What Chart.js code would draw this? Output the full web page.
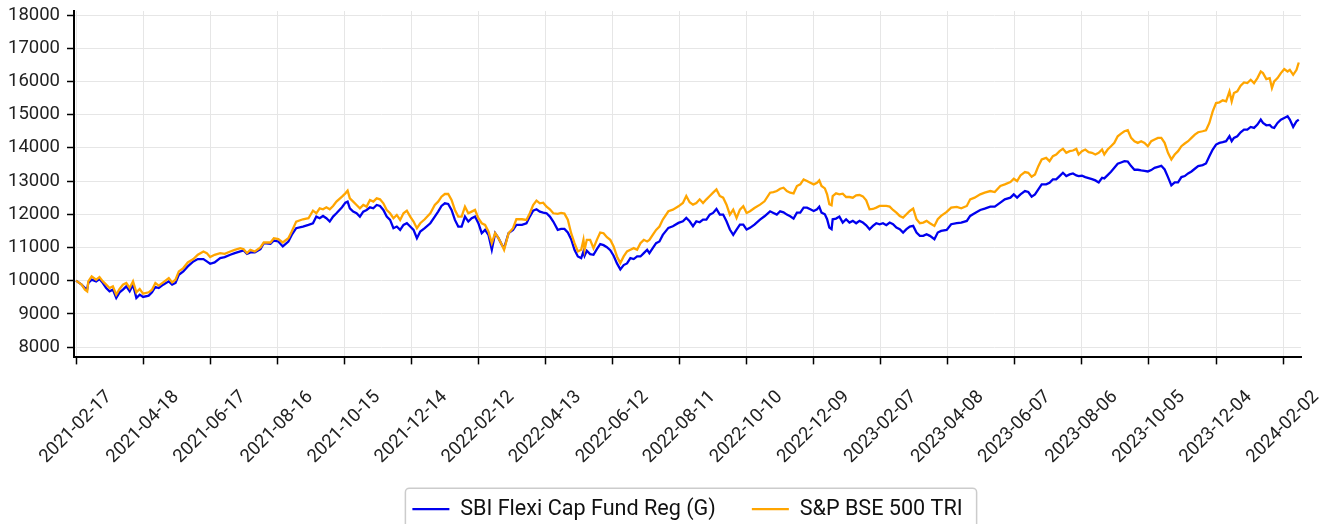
<!DOCTYPE html>
<html>
<head>
<meta charset="utf-8">
<script src="https://cdn.jsdelivr.net/npm/chart.js@4.4.4/dist/chart.umd.min.js"></script>
<style>
  html, body { margin: 0; padding: 0; background: #fff; }
  canvas { display: block; }
</style>
</head>
<body>
<canvas id="chart" width="1323" height="524"></canvas>
<script>
// Growth of 10000 invested: SBI Flexi Cap Fund vs S&P BSE 500 TRI.
// x values are calendar days counted from START.
const START = '2021-02-17';

const tickLabels = [
    '2021-02-17', '2021-04-18', '2021-06-17', '2021-08-16', '2021-10-15', '2021-12-14',
    '2022-02-12', '2022-04-13', '2022-06-12', '2022-08-11', '2022-10-10', '2022-12-09',
    '2023-02-07', '2023-04-08', '2023-06-07', '2023-08-06', '2023-10-05', '2023-12-04',
    '2024-02-02',
];

const yTicks = [8000, 9000, 10000, 11000, 12000, 13000, 14000, 15000, 16000, 17000, 18000];

const days = [
    0, 5, 8, 10, 11, 14, 18, 21, 24, 27, 30, 33, 36, 39, 42, 45, 48, 51, 54, 57,
    60, 65, 68, 71, 74, 78, 83, 86, 89, 92, 96, 100, 105, 109, 114, 117, 120, 124, 129, 133,
    138, 142, 147, 150, 153, 156, 160, 165, 168, 174, 177, 181, 185, 190, 193, 197, 203, 208, 212, 215,
    218, 221, 224, 227, 230, 233, 238, 241, 243, 245, 248, 251, 254, 257, 260, 263, 266, 269, 272, 275,
    278, 281, 284, 287, 290, 293, 296, 299, 302, 305, 308, 312, 317, 321, 324, 327, 330, 333, 336, 339,
    342, 345, 348, 351, 354, 357, 360, 363, 366, 369, 372, 375, 378, 381, 383, 387, 391, 394, 399, 403,
    406, 409, 412, 415, 418, 421, 424, 427, 431, 434, 437, 440, 443, 446, 449, 452, 454, 455, 457, 460,
    463, 466, 469, 472, 475, 478, 481, 484, 487, 490, 493, 496, 499, 502, 505, 508, 511, 513, 516, 519,
    522, 525, 530, 534, 539, 543, 546, 549, 552, 555, 558, 561, 564, 567, 570, 573, 576, 579, 582, 585,
    588, 591, 594, 597, 600, 603, 607, 612, 616, 621, 624, 627, 630, 633, 636, 639, 642, 645, 648, 651,
    654, 657, 660, 663, 665, 667, 670, 672, 674, 676, 677, 680, 683, 686, 689, 692, 695, 698, 701, 704,
    707, 710, 713, 716, 719, 722, 725, 728, 731, 734, 737, 740, 743, 746, 749, 752, 755, 758, 761, 764,
    768, 771, 774, 779, 783, 788, 792, 797, 800, 804, 809, 813, 818, 822, 827, 831, 836, 839, 842, 845,
    849, 852, 855, 858, 861, 864, 868, 871, 874, 877, 880, 883, 886, 889, 892, 895, 897, 900, 903, 906,
    909, 912, 915, 918, 920, 923, 926, 929, 932, 935, 938, 941, 944, 947, 950, 953, 956, 959, 962, 965,
    968, 971, 974, 977, 980, 983, 986, 989, 992, 995, 998, 1001, 1004, 1008, 1011, 1014, 1017, 1020, 1023, 1026,
    1029, 1032, 1034, 1036, 1039, 1042, 1045, 1048, 1051, 1054, 1057, 1060, 1062, 1065, 1068, 1070, 1072, 1075, 1078, 1081,
    1084, 1086, 1089, 1092, 1094,
];

const fundValues = [
    10000, 9880, 9780, 9750, 9930, 10030, 9980, 10050, 9930, 9780, 9680, 9730, 9480, 9650, 9730, 9830, 9680, 9880, 9480, 9580,
    9510, 9550, 9650, 9810, 9780, 9880, 9980, 9880, 9930, 10180, 10280, 10430, 10580, 10650, 10650, 10580, 10510, 10550, 10680, 10710,
    10780, 10830, 10880, 10910, 10810, 10850, 10850, 10950, 11130, 11110, 11210, 11180, 11030, 11180, 11380, 11580, 11630, 11680, 11730, 11930,
    11880, 11950, 11880, 11780, 11930, 12030, 12210, 12350, 12380, 12180, 12080, 12030, 11930, 12080, 12130, 12210, 12180, 12280, 12250, 12130,
    11930, 11830, 11580, 11630, 11530, 11680, 11730, 11630, 11530, 11280, 11480, 11580, 11730, 11930, 12080, 12250, 12330, 12310, 12130, 11830,
    11630, 11630, 11930, 11780, 11880, 11930, 11730, 11430, 11530, 11380, 10930, 11430, 11280, 11080, 10980, 11430, 11530, 11680, 11680, 11730,
    11930, 12110, 12150, 12080, 12050, 12030, 11930, 11780, 11530, 11560, 11560, 11450, 11250, 10930, 10730, 10680, 10880, 10750, 10900, 10800,
    10780, 10950, 11100, 11070, 11010, 10920, 10750, 10520, 10340, 10470, 10520, 10680, 10650, 10730, 10730, 10830, 10930, 10830, 10980, 11130,
    11180, 11380, 11590, 11640, 11740, 11790, 11890, 11790, 11640, 11790, 11760, 11840, 11840, 11990, 12040, 12160, 11990, 11990, 11790, 11540,
    11380, 11540, 11690, 11690, 11540, 11590, 11690, 11840, 11940, 12090, 12040, 11990, 12090, 12060, 11990, 11940, 11870, 12050, 12050, 12200,
    12200, 12150, 12100, 12150, 12230, 12050, 12000, 11850, 11600, 11550, 11850, 11870, 11930, 11750, 11850, 11750, 11800, 11730, 11800, 11750,
    11670, 11550, 11650, 11730, 11700, 11730, 11670, 11750, 11700, 11600, 11550, 11450, 11550, 11630, 11650, 11450, 11350, 11350, 11400, 11350,
    11250, 11450, 11500, 11530, 11700, 11730, 11750, 11800, 11950, 12030, 12130, 12170, 12230, 12230, 12350, 12450, 12500, 12600, 12500, 12600,
    12700, 12670, 12530, 12600, 12750, 12900, 12900, 12950, 13050, 13050, 13150, 13250, 13150, 13200, 13230, 13170, 13150, 13160, 13120, 13090,
    13060, 13020, 12960, 13100, 13080, 13180, 13280, 13400, 13520, 13560, 13600, 13590, 13450, 13340, 13340, 13320, 13310, 13290, 13330, 13400,
    13430, 13460, 13350, 13120, 12870, 12960, 12960, 13120, 13150, 13230, 13290, 13370, 13450, 13480, 13530, 13750, 13950, 14100, 14150, 14170,
    14200, 14350, 14200, 14300, 14350, 14470, 14550, 14550, 14630, 14600, 14700, 14850, 14750, 14680, 14690, 14620, 14600, 14750, 14850, 14900,
    14950, 14850, 14630, 14800, 14850,
];

const indexValues = [
    10000, 9880, 9730, 9680, 9980, 10130, 10030, 10110, 9980, 9880, 9780, 9830, 9580, 9750, 9880, 9930, 9780, 9980, 9650, 9750,
    9610, 9650, 9730, 9930, 9850, 9950, 10080, 9950, 10030, 10280, 10380, 10550, 10650, 10780, 10880, 10830, 10710, 10780, 10830, 10810,
    10880, 10930, 10980, 10950, 10830, 10930, 10880, 11000, 11150, 11150, 11280, 11250, 11150, 11280, 11480, 11780, 11850, 11880, 12110, 12030,
    12180, 12150, 12210, 12150, 12250, 12380, 12530, 12630, 12710, 12480, 12380, 12280, 12180, 12280, 12230, 12430, 12380, 12480, 12450, 12330,
    12130, 12030, 11880, 11980, 11830, 12030, 12110, 11930, 11780, 11580, 11730, 11850, 12030, 12280, 12380, 12530, 12610, 12610, 12430, 12130,
    11930, 11930, 12230, 12030, 12080, 12130, 11880, 11730, 11680, 11480, 11130, 11430, 11280, 11080, 10930, 11430, 11580, 11850, 11850, 11830,
    12030, 12280, 12410, 12330, 12350, 12230, 12150, 12030, 12010, 12040, 12020, 11840, 11430, 11130, 10880, 10930, 11230, 10930, 11230, 11230,
    10980, 11230, 11450, 11430, 11310, 11230, 11030, 10730, 10530, 10730, 10880, 10930, 10980, 10930, 11130, 11230, 11180, 11230, 11380, 11530,
    11630, 11840, 12090, 12140, 12240, 12340, 12550, 12360, 12290, 12340, 12450, 12340, 12450, 12550, 12650, 12750, 12550, 12500, 12290, 11990,
    12140, 11890, 12140, 12240, 12040, 12090, 12190, 12290, 12390, 12650, 12670, 12700, 12770, 12800, 12700, 12650, 12630, 12850, 12900, 13050,
    13000, 12950, 12900, 12950, 13020, 12850, 12780, 12600, 12300, 12270, 12550, 12630, 12600, 12620, 12520, 12520, 12500, 12570, 12580, 12540,
    12420, 12150, 12160, 12200, 12250, 12250, 12250, 12230, 12130, 12050, 11950, 11900, 12000, 12100, 12170, 11850, 11730, 11750, 11800, 11730,
    11650, 11850, 11950, 12070, 12200, 12220, 12180, 12250, 12450, 12500, 12600, 12650, 12700, 12670, 12850, 12900, 12970, 13070, 13000, 13170,
    13270, 13250, 13130, 13200, 13450, 13650, 13700, 13600, 13750, 13800, 13900, 13970, 13850, 13900, 13920, 13970, 13800, 13900, 13950, 13870,
    13850, 13800, 13850, 13950, 13800, 13950, 14050, 14150, 14350, 14430, 14500, 14530, 14300, 14200, 14150, 14200, 14150, 14050, 14200, 14250,
    14300, 14300, 14150, 13850, 13650, 13800, 13900, 14050, 14130, 14200, 14300, 14400, 14470, 14500, 14530, 14750, 15100, 15350, 15370, 15430,
    15400, 15700, 15400, 15650, 15700, 15870, 15970, 15950, 16050, 15950, 16100, 16300, 16250, 16070, 16100, 15800, 16000, 16100, 16250, 16370,
    16300, 16350, 16200, 16350, 16570,
];

const DAY_MS = 86400000;
const dayOf = (iso) => Math.round((Date.parse(iso) - Date.parse(START)) / DAY_MS);
const tickDays = tickLabels.map(dayOf);

Chart.defaults.font.family = 'Roboto, "Noto Sans", sans-serif';
Chart.defaults.color = '#222';

// outline round the legend, like the framed legend of the original
const legendFrame = {
    id: 'legendFrame',
    afterDraw(chart) {
        const lg = chart.legend;
        if (!lg || !lg.legendHitBoxes || !lg.legendHitBoxes.length) return;
        const boxes = lg.legendHitBoxes;
        const first = boxes[0];
        const last = boxes[boxes.length - 1];
        const left = first.left - 7;
        const right = last.left + last.width + 14;
        const top = first.top + first.height / 2 - 21;
        const { ctx } = chart;
        ctx.save();
        ctx.strokeStyle = '#cccccc';
        ctx.lineWidth = 1.5;
        ctx.beginPath();
        if (ctx.roundRect) ctx.roundRect(left, top, right - left, 60, 4);
        else ctx.rect(left, top, right - left, 60);
        ctx.stroke();
        ctx.restore();
    },
};

new Chart(document.getElementById('chart'), {
    type: 'line',
    data: {
        datasets: [
            {
                label: 'SBI Flexi Cap Fund Reg (G)',
                data: days.map((d, i) => ({ x: d, y: fundValues[i] })),
                borderColor: '#0000ee',
                backgroundColor: '#0000ee',
                borderWidth: 2.3,
                pointRadius: 0,
                tension: 0,
                order: 2,
            },
            {
                label: 'S&P BSE 500 TRI',
                data: days.map((d, i) => ({ x: d, y: indexValues[i] })),
                borderColor: '#ffa500',
                backgroundColor: '#ffa500',
                borderWidth: 2.3,
                pointRadius: 0,
                tension: 0,
                order: 1,
            },
        ],
    },
    options: {
        responsive: false,
        animation: false,
        devicePixelRatio: 1,
        layout: { padding: { top: 11, right: 22, bottom: -6, left: 0 } },
        plugins: {
            tooltip: { enabled: false },
            legend: {
                position: 'bottom',
                fullSize: false,
                labels: {
                    usePointStyle: true,
                    pointStyle: 'line',
                    pointStyleWidth: 37,
                    padding: 36,
                    color: '#111',
                    font: { size: 21.6 },
                    sort: (a, b) => a.datasetIndex - b.datasetIndex,
                },
            },
        },
        scales: {
            x: {
                type: 'linear',
                min: -1.8,
                max: 1096,
                afterFit(scale) {
                    scale.height = 105;
                    scale.paddingLeft = 0;
                    scale.paddingRight = 0;
                },
                afterBuildTicks(scale) { scale.ticks = tickDays.map((v) => ({ value: v })); },
                grid: { color: '#e6e6e6', lineWidth: 1, tickColor: '#000', tickLength: 7, tickWidth: 1.5 },
                border: { color: '#000', width: 2 },
                ticks: {
                    autoSkip: false,
                    minRotation: 45,
                    maxRotation: 45,
                    labelOffset: 33,
                    padding: 22,
                    font: { size: 18.5 },
                    color: '#222',
                    callback(value) {
                        const i = tickDays.indexOf(value);
                        return i >= 0 ? tickLabels[i] : '';
                    },
                },
            },
            y: {
                min: 7690,
                max: 18121,
                afterFit(scale) {
                    scale.width = 74;
                    scale.paddingTop = 0;
                    scale.paddingBottom = 0;
                },
                afterBuildTicks(scale) { scale.ticks = yTicks.map((v) => ({ value: v })); },
                grid: { color: '#e6e6e6', lineWidth: 1, tickColor: '#000', tickLength: 7, tickWidth: 1.5 },
                border: { color: '#000', width: 2 },
                ticks: {
                    padding: 7,
                    font: { size: 18.5 },
                    color: '#222',
                    callback: (v) => String(v),
                },
            },
        },
    },
    plugins: [legendFrame],
});
</script>
</body>
</html>
